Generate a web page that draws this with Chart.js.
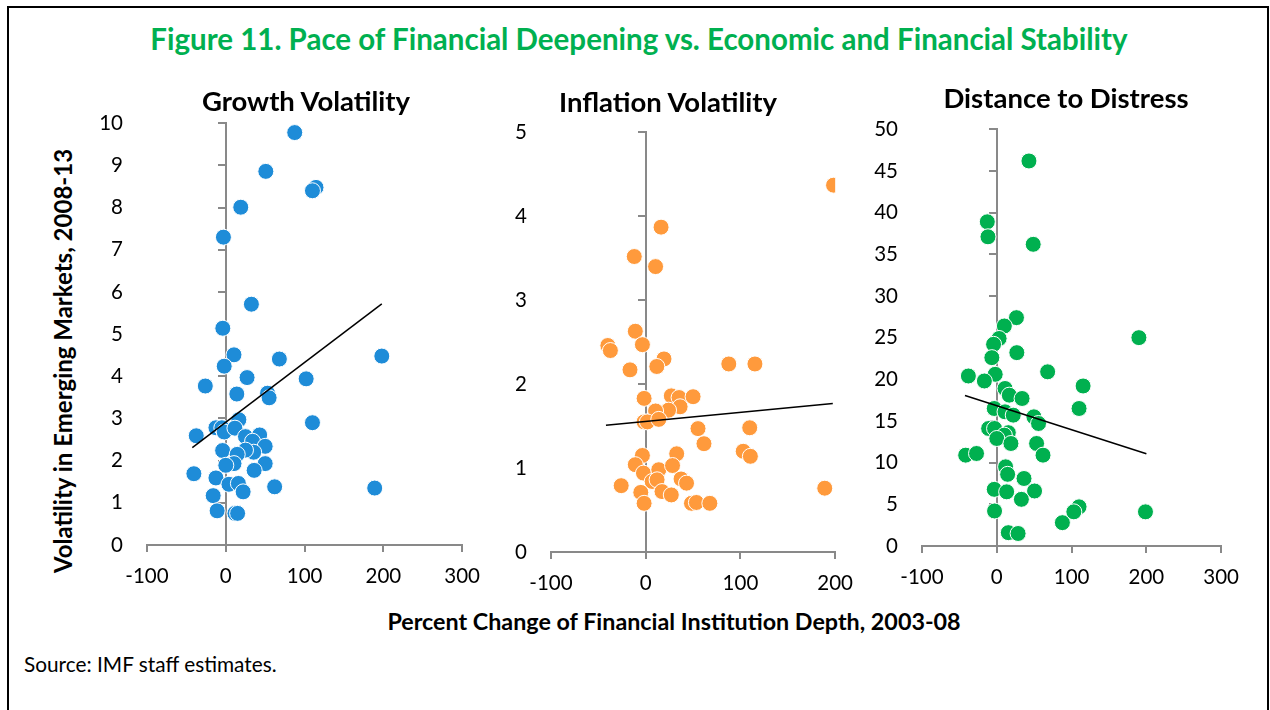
<!DOCTYPE html>
<html>
<head>
<meta charset="utf-8">
<title>Figure 11</title>
<script src="https://cdn.jsdelivr.net/npm/chart.js@4.4.1/dist/chart.umd.min.js"></script>
<style>
  body { margin: 0; background: #fff; width: 1270px; height: 710px; overflow: hidden; position: relative; font-family: Lato, "Noto Sans", sans-serif; }
  .frame { position: absolute; left: 7px; top: 6px; width: 1258px; height: 800px; border: 2px solid #000; }
  .txt { position: absolute; white-space: nowrap; transform: translate(-50%, -50%); color: #000; }
  canvas { position: absolute; }
</style>
</head>
<body>
<div class="frame"></div>

<canvas id="g1" style="left:87px; top:87px;" width="405" height="503"></canvas>
<canvas id="g2" style="left:491px; top:96px;" width="374" height="501"></canvas>
<canvas id="g3" style="left:862px; top:93px;" width="389" height="498"></canvas>

<div class="txt" style="left:639px; top:38px; color:#00B050; font-weight:bold; font-size:29.5px;">Figure 11. Pace of Financial Deepening vs. Economic and Financial Stability</div>
<div class="txt" style="left:306px; top:100px; font-weight:bold; font-size:27.5px;">Growth Volatility</div>
<div class="txt" style="left:668px; top:101px; font-weight:bold; font-size:27.5px;">Inflation Volatility</div>
<div class="txt" style="left:1066px; top:97px; font-weight:bold; font-size:27.5px;">Distance to Distress</div>
<div class="txt" style="left:62px; top:361px; font-weight:bold; font-size:24px; transform: translate(-50%, -50%) rotate(-90deg);">Volatility in Emerging Markets, 2008-13</div>
<div class="txt" style="left:674px; top:621px; font-weight:bold; font-size:23.3px;">Percent Change of Financial Institution Depth, 2003-08</div>
<div class="txt" style="left:24px; top:663px; font-size:20.8px; transform: translate(0, -50%);">Source: IMF staff estimates.</div>

<script>
// Growth volatility (x = % change in FI depth, y = volatility)
const growthX = [87.5, 50.8, 114.5, 110, 19, -3, 32.5, -3.8, 10.4, -2, 68, 198, -26, 27, 102, 14, 53, 55, 110,
  -37.5, -12.5, -5, -2, 16.6, 11.6, 25, 43, 34, 50, 35.4, 25, -4, 14.5, 10.4, 0, 50, 36, -40.5, -12.5, 4, 16, 22,
  62, 189, -16, -11, 11.6, 15];
const growthY = [9.78, 8.86, 8.48, 8.40, 8.01, 7.30, 5.71, 5.14, 4.51, 4.24, 4.41, 4.48, 3.77, 3.97, 3.94, 3.58, 3.60, 3.49, 2.90,
  2.59, 2.78, 2.78, 2.68, 2.97, 2.77, 2.57, 2.61, 2.46, 2.34, 2.20, 2.25, 2.24, 2.15, 1.93, 1.89, 1.93, 1.77, 1.69, 1.59, 1.44, 1.46, 1.26,
  1.38, 1.35, 1.17, 0.81, 0.75, 0.75];
const growthTrendX = [-42.5, 198];
const growthTrendY = [2.31, 5.72];

// Inflation volatility
const inflX = [198.3, 16.2, -12.1, 10.4, -11, -40, -37.3, -3.5, 19.3, 11.7, -16.6, 87.7, 115.3, -1.7, 27, 35.2, 50,
  36.3, 24.1, 10.4, -1.7, 1.7, 13.8, 55.2, 109.8, 61.5, 102.9, 110.5, 32.7, -3.5, -11, -2.4, 13.8, 28.3, 6.8, 12,
  37.3, 43.1, -25.9, -5.2, 17.2, 27, -1.7, 48.3, 53.5, 67.7, 189];
const inflY = [4.37, 3.87, 3.52, 3.40, 2.63, 2.46, 2.40, 2.47, 2.30, 2.21, 2.17, 2.24, 2.24, 1.83, 1.86, 1.84, 1.85,
  1.73, 1.69, 1.68, 1.55, 1.55, 1.58, 1.47, 1.48, 1.29, 1.20, 1.14, 1.17, 1.15, 1.04, 0.94, 0.98, 1.03, 0.84, 0.86,
  0.87, 0.82, 0.79, 0.71, 0.72, 0.68, 0.58, 0.58, 0.59, 0.58, 0.76];
const inflTrendX = [-42, 197.5];
const inflTrendY = [1.51, 1.77];

// Distance to distress
const distX = [43, -12.7, -11.8, 48.7, 26.3, 10.1, 3.1, -4.3, 190, 26.8, -6.6, -2.1, -38, -16.6, 68, 115.4, 11, 16.7,
  33.8, 110, -3.4, 11, 22, 49.6, 55.8, -10.9, -3, 15.4, 10.1, 0, 18.9, 53.2, -41.6, -27.1, 61.8, 11.8, 14.5, 36.4,
  -3.4, 13.2, 50.5, 32.9, -3, 110, 103, 198.8, 87.7, 15.4, 28.5];
const distY = [46.2, 38.9, 37.1, 36.2, 27.4, 26.4, 24.9, 24.2, 25.0, 23.2, 22.6, 20.6, 20.4, 19.8, 20.9, 19.2, 18.9, 18.1,
  17.7, 16.5, 16.5, 16.1, 15.7, 15.5, 14.7, 14.1, 14.1, 13.6, 13.3, 12.9, 12.3, 12.3, 10.9, 11.1, 10.9, 9.5, 8.6, 8.1,
  6.8, 6.5, 6.6, 5.6, 4.2, 4.7, 4.1, 4.1, 2.8, 1.6, 1.5];
const distTrendX = [-42.5, 200];
const distTrendY = [18.05, 11.07];

const axisGray = '#898989';

function pairs(xs, ys) {
  return xs.map((x, i) => ({ x: x, y: ys[i] }));
}

function makePanel(id, xs, ys, tx, ty, color, xMax, yMax, yStep) {
  new Chart(document.getElementById(id), {
    type: 'scatter',
    data: {
      datasets: [
        {
          type: 'line',
          data: pairs(tx, ty),
          borderColor: '#000',
          borderWidth: 1.5,
          pointRadius: 0,
          fill: false
        },
        {
          data: pairs(xs, ys),
          backgroundColor: color,
          borderColor: '#fff',
          borderWidth: 1,
          pointRadius: 8
        }
      ]
    },
    options: {
      responsive: false,
      animation: false,
      layout: { padding: { top: 15, right: 25, left: 0, bottom: 0 } },
      plugins: { legend: { display: false }, tooltip: { enabled: false } },
      scales: {
        x: {
          type: 'linear',
          min: -100,
          max: xMax,
          afterFit: s => { s.height = 45; },
          ticks: { stepSize: 100, color: '#000', font: { family: 'Lato', size: 20.5 }, padding: 12, maxRotation: 0 },
          grid: { drawOnChartArea: false, drawTicks: true, tickLength: 7, color: axisGray, lineWidth: 2 },
          border: { display: true, color: axisGray, width: 2 }
        },
        y: {
          type: 'linear',
          position: 'left',
          min: 0,
          max: yMax,
          afterFit: s => { s.width = 60; },
          ticks: { stepSize: yStep, color: '#000', font: { family: 'Lato', size: 20.5 }, padding: 24 },
          grid: { display: false, drawTicks: false },
          border: { display: false }
        },
        y0: {
          type: 'linear',
          position: { x: 0 },
          min: 0,
          max: yMax,
          ticks: { display: false, stepSize: yStep },
          grid: { drawOnChartArea: false, drawTicks: true, tickLength: 7, color: axisGray, lineWidth: 2 },
          border: { display: true, color: axisGray, width: 2 }
        }
      }
    }
  });
}

makePanel('g1', growthX, growthY, growthTrendX, growthTrendY, '#1E8CD8', 300, 10, 1);
makePanel('g2', inflX, inflY, inflTrendX, inflTrendY, '#FF9A3C', 200, 5, 1);
makePanel('g3', distX, distY, distTrendX, distTrendY, '#00B04F', 300, 50, 5);
</script>
</body>
</html>
